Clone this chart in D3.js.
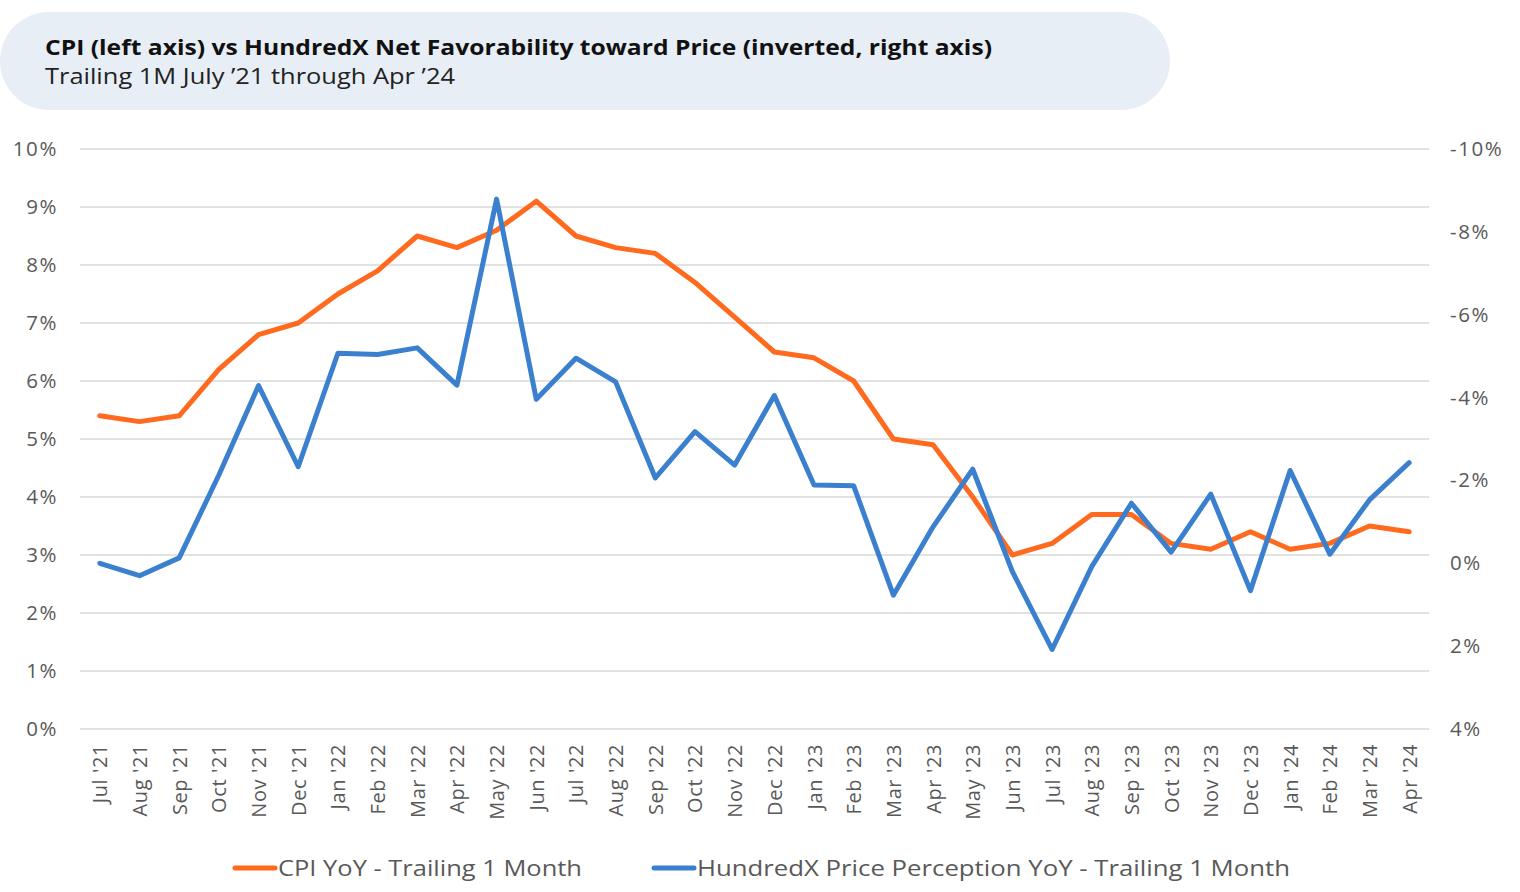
<!DOCTYPE html>
<html>
<head>
<meta charset="utf-8">
<script src="https://cdn.jsdelivr.net/npm/d3@7"></script>
<style>
  html, body { margin: 0; padding: 0; background: #fff; }
  svg { display: block; font-family: "Open Sans", "Noto Sans", sans-serif; }
</style>
</head>
<body>
<svg id="chart" width="1520" height="892"></svg>
<script>
const months = ["Jul '21","Aug '21","Sep '21","Oct '21","Nov '21","Dec '21",
  "Jan '22","Feb '22","Mar '22","Apr '22","May '22","Jun '22","Jul '22","Aug '22","Sep '22","Oct '22","Nov '22","Dec '22",
  "Jan '23","Feb '23","Mar '23","Apr '23","May '23","Jun '23","Jul '23","Aug '23","Sep '23","Oct '23","Nov '23","Dec '23",
  "Jan '24","Feb '24","Mar '24","Apr '24"];
const cpi = [5.4,5.3,5.4,6.2,6.8,7.0,7.5,7.9,8.5,8.3,8.6,9.1,8.5,8.3,8.2,7.7,7.1,6.5,6.4,6.0,5.0,4.9,4.0,3.0,3.2,3.7,3.7,3.2,3.1,3.4,3.1,3.2,3.5,3.4];
const hundredx = [0.0,0.3,-0.13,-2.13,-4.29,-2.33,-5.07,-5.04,-5.2,-4.3,-8.79,-3.96,-4.95,-4.38,-2.06,-3.18,-2.37,-4.05,
  -1.89,-1.87,0.77,-0.88,-2.27,0.2,2.08,0.08,-1.45,-0.27,-1.67,0.66,-2.24,-0.22,-1.53,-2.43];
const leftTicks = [0,1,2,3,4,5,6,7,8,9,10];
const rightTicks = [-10,-8,-6,-4,-2,0,2,4];
const seriesNames = ["CPI YoY - Trailing 1 Month", "HundredX Price Perception YoY - Trailing 1 Month"];
const title = "CPI (left axis) vs HundredX Net Favorability toward Price (inverted, right axis)";
const subtitle = "Trailing 1M July \u201921 through Apr \u201924";

const svg = d3.select("#chart");
const orange = "#FF6A1F", blue = "#3B80CE";
const plot = {left: 80, right: 1429, top: 149, bottom: 729};
const tickFont = "\"Open Sans\", sans-serif";

// Title box
svg.append("rect").attr("x", 0).attr("y", 12).attr("width", 1170).attr("height", 98)
  .attr("rx", 49).attr("ry", 49).attr("fill", "#E8EEF5");
svg.append("text").attr("x", 45).attr("y", 55).attr("font-size", 21).attr("font-weight", 700)
  .attr("fill", "#111").attr("textLength", 947).attr("lengthAdjust", "spacingAndGlyphs").text(title);
svg.append("text").attr("x", 45).attr("y", 84).attr("font-size", 21).attr("fill", "#222")
  .attr("textLength", 410).attr("lengthAdjust", "spacingAndGlyphs").text(subtitle);

const x = d3.scalePoint().domain(months).range([plot.left, plot.right]).padding(0.5);
const yL = d3.scaleLinear().domain([0, 10]).range([plot.bottom, plot.top]);
const yR = d3.scaleLinear().domain([-10, 4]).range([plot.top, plot.bottom]);

// gridlines
svg.append("g").selectAll("line").data(leftTicks).join("line")
  .attr("x1", plot.left).attr("x2", plot.right)
  .attr("y1", d => yL(d)).attr("y2", d => yL(d))
  .attr("stroke", "#D9D9D9").attr("stroke-width", 1.5);

// left axis
const axL = svg.append("g").attr("transform", `translate(${plot.left},0)`)
  .call(d3.axisLeft(yL).tickValues(leftTicks).tickFormat(d => d + "%").tickSize(0).tickPadding(22));
axL.select(".domain").remove();
axL.selectAll("text").attr("font-size", 20.5).attr("fill", "#595959").attr("font-family", tickFont)
  .attr("letter-spacing", 1.6);

// right axis
const axR = svg.append("g").attr("transform", `translate(${plot.right},0)`)
  .call(d3.axisRight(yR).tickValues(rightTicks).tickFormat(d => d + "%").tickSize(0).tickPadding(21));
axR.select(".domain").remove();
axR.selectAll("text").attr("font-size", 20.5).attr("fill", "#595959").attr("font-family", tickFont)
  .attr("letter-spacing", 1.6);

// x axis
const axX = svg.append("g").attr("transform", `translate(0,${plot.bottom})`)
  .call(d3.axisBottom(x).tickSize(0));
axX.select(".domain").remove();
axX.selectAll("text")
  .attr("font-size", 20).attr("fill", "#595959").attr("font-family", tickFont)
  .attr("letter-spacing", 0.6)
  .attr("transform", "rotate(-90)").attr("text-anchor", "end")
  .attr("x", -15).attr("y", 0).attr("dy", "0.35em");

// lines
const lineL = d3.line().x((d, i) => x(months[i])).y(d => yL(d));
const lineR = d3.line().x((d, i) => x(months[i])).y(d => yR(d));
svg.append("path").datum(cpi).attr("d", lineL).attr("fill", "none")
  .attr("stroke", orange).attr("stroke-width", 5).attr("stroke-linejoin", "round").attr("stroke-linecap", "round");
svg.append("path").datum(hundredx).attr("d", lineR).attr("fill", "none")
  .attr("stroke", blue).attr("stroke-width", 5).attr("stroke-linejoin", "round").attr("stroke-linecap", "round");

// legend
const legend = [{name: seriesNames[0], color: orange, x: 233, w: 304}, {name: seriesNames[1], color: blue, x: 652, w: 593}];
const lg = svg.append("g").selectAll("g").data(legend).join("g")
  .attr("transform", d => `translate(${d.x},868)`);
lg.append("line").attr("x1", 2).attr("x2", 42).attr("y1", 0).attr("y2", 0)
  .attr("stroke", d => d.color).attr("stroke-width", 5).attr("stroke-linecap", "round");
lg.append("text").attr("x", 45).attr("y", 0).attr("dy", "0.35em")
  .attr("font-size", 22).attr("fill", "#595959")
  .attr("textLength", d => d.w).attr("lengthAdjust", "spacingAndGlyphs").text(d => d.name);
</script>
</body>
</html>
